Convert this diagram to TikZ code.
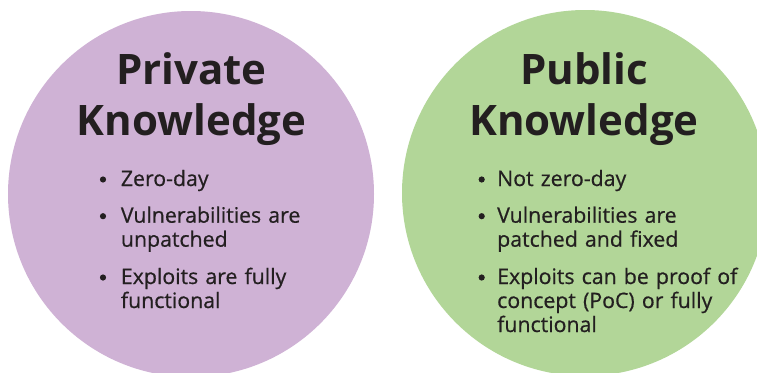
\documentclass[tikz,border=0pt]{standalone}
\usepackage{fontspec}
\setmainfont{Open Sans}
\newfontfamily\itemfont[FakeBold=0.6]{Open Sans}
\definecolor{lilac}{RGB}{207,178,213}
\definecolor{sage}{RGB}{178,214,152}
\definecolor{ink}{RGB}{35,31,32}
\begin{document}
\begin{tikzpicture}[x=1pt,y=-1pt,
  disc/.style={circle,inner sep=0pt,minimum size=366pt,draw=none},
  title/.style={anchor=base,align=center,inner sep=0pt,text=ink,font=\fontsize{42}{51}\selectfont\bfseries},
  item/.style={anchor=base west,inner sep=0pt,align=left,text=ink,text width=#1,font=\itemfont\fontsize{21.3}{24}\selectfont},
  dot/.style={circle,fill=ink,inner sep=0pt,minimum size=6.2pt}]
\useasboundingbox (0,0) rectangle (757,372);
\node[disc,fill=lilac] (priv) at (191,194) {};
\node[disc,fill=sage] (pub) at (585,193) {};
\node[title] (ptitle) at (191.5,135.5) {Private\\Knowledge};
\node[title] (utitle) at (584,135) {Public\\Knowledge};
% left items
\node[item=200pt] (l1) at (120.7,186) {Zero-day};
\node[item=200pt] (l2) at (120.7,222.7) {Vulnerabilities are\\unpatched};
\node[item=200pt] (l3) at (120.7,284) {Exploits are fully\\functional};
\node[dot] (ld1) at (103,179.5) {};
\node[dot] (ld2) at (103,216.2) {};
\node[dot] (ld3) at (103,277.5) {};
% right items
\node[item=250pt] (r1) at (497,186) {Not zero-day};
\node[item=250pt] (r2) at (497,222.7) {Vulnerabilities are\\patched and fixed};
\node[item=250pt] (r3) at (497,284) {Exploits can be proof of\\concept (PoC) or fully\\functional};
\node[dot] (rd1) at (481.7,179.5) {};
\node[dot] (rd2) at (481.7,216.2) {};
\node[dot] (rd3) at (481.7,277.5) {};
\end{tikzpicture}
\end{document}
